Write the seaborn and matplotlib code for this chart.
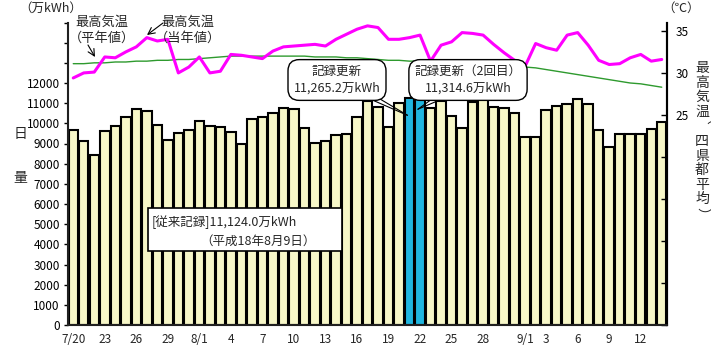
import matplotlib
matplotlib.use("Agg")
import matplotlib.pyplot as plt
import numpy as np
import pandas as pd
import seaborn as sns
from matplotlib.patches import Rectangle

# Daily electricity demand (万kWh), 7/20 - 9/14
demand = [9650, 9100, 8450, 9600, 9850, 10300, 10700, 10600, 9900, 9150,
          9500, 9650, 10100, 9850, 9800, 9550, 9000, 10200, 10300, 10500,
          10750, 10700, 9750, 9030, 9130, 9430, 9480, 10300, 11100, 10800,
          9800, 11000, 11265.2, 11314.6, 10750, 11130, 10380, 9750, 11050, 11230,
          10800, 10750, 10500, 9320, 9320, 10670, 10850, 10950, 11200, 10950,
          9650, 8850, 9480, 9480, 9480, 9720, 10050]

# Days that set a new record
record_days = [32, 33]

# Daily maximum temperature, average of four prefectural capitals (℃)
temp_actual = [29.4, 30.0, 30.1, 31.9, 31.8, 32.5, 33.1, 34.2, 33.8, 34.0,
               30.0, 30.7, 31.9, 30.0, 30.2, 32.2, 32.1, 31.9, 31.7, 32.6,
               33.1, 33.2, 33.3, 33.4, 33.2, 34.0, 34.6, 35.2, 35.6, 35.4,
               34.0, 34.0, 34.2, 34.5, 31.4, 33.3, 33.7, 34.8, 34.7, 34.5,
               33.4, 32.4, 31.5, 30.8, 33.5, 33.0, 32.7, 34.5, 34.8, 33.3,
               31.5, 31.0, 31.1, 31.8, 32.2, 31.4, 31.6]

# Normal-year maximum temperature (℃)
temp_normal = [31.1, 31.1, 31.2, 31.2, 31.3, 31.3, 31.4, 31.4, 31.5, 31.5,
               31.6, 31.6, 31.7, 31.8, 31.9, 32.0, 32.0, 32.0, 32.0, 32.0,
               32.0, 32.0, 32.0, 31.9, 31.9, 31.9, 31.8, 31.8, 31.7, 31.6,
               31.5, 31.5, 31.4, 31.4, 31.3, 31.2, 31.2, 31.1, 31.0, 31.0,
               30.9, 30.9, 30.8, 30.7, 30.6, 30.4, 30.2, 30.0, 29.8, 29.6,
               29.4, 29.2, 29.0, 28.8, 28.7, 28.5, 28.3]

tick_pos = [0, 3, 6, 9, 12, 15, 18, 21, 24, 27, 30, 33, 36, 39, 43, 45, 48, 51, 54]
tick_labels = ["7/20", "23", "26", "29", "8/1", "4", "7", "10", "13", "16", "19",
               "22", "25", "28", "9/1", "3", "6", "9", "12"]

sns.set_theme(style="white")
plt.rcParams['font.family'] = ['Noto Sans CJK JP', 'DejaVu Sans']

W, H = 711, 347
fig = plt.figure(figsize=(W / 100, H / 100), dpi=100)


def px(x, y):
    return (x / W, 1 - y / H)


L, R, B, T = 68, 667, 325, 22.5
ax = fig.add_axes([L / W, 1 - B / H, (R - L) / W, (B - T) / H])

n = len(demand)
df = pd.DataFrame({
    "day": np.arange(n),
    "demand": demand,
    "kind": ["record" if i in record_days else "normal" for i in range(n)],
})
sns.barplot(data=df, x="day", y="demand", hue="kind",
            palette={"normal": "#ffffc0", "record": "#00c8ff"},
            dodge=False, width=0.9, edgecolor="black", linewidth=1.5,
            legend=False, ax=ax)

ax.set_ylim(0, 15000)
yt = np.arange(0, 15001, 1000)
ax.set_yticks(yt)
ax.set_yticklabels([str(v) if v <= 12000 else "" for v in yt])
ax.set_xticks(tick_pos)
ax.set_xticklabels(tick_labels)
ax.tick_params(axis="y", direction="out", length=3, width=1, labelsize=8.5,
               pad=3, left=True, colors="black")
ax.tick_params(axis="x", length=0, labelsize=8.5, pad=6)
ax.set_xlabel("")
ax.set_ylabel("")
for s in ["left", "bottom", "right"]:
    ax.spines[s].set_color("black")
    ax.spines[s].set_linewidth(1.5)
ax.spines["top"].set_visible(False)

ax2 = ax.twinx()
x = np.arange(n)
sns.lineplot(x=x, y=temp_normal, color="#2e9a2e", linewidth=1.0, ax=ax2)
sns.lineplot(x=x, y=temp_actual, color="#ff00ff", linewidth=2.2, ax=ax2)
ax2.set_ylim(0, 36)
ax2.set_yticks(np.arange(0, 36, 5))
ax2.set_yticklabels(["" if v < 25 else str(v) for v in range(0, 36, 5)])
ax2.tick_params(axis="y", direction="in", length=4, width=1, labelsize=8.5,
                pad=6, right=True, colors="black")
ax2.spines["top"].set_visible(False)
ax2.spines["right"].set_color("black")
ax2.spines["right"].set_linewidth(1.5)
ax2.set_xlim(-0.5, n - 0.5)
ax.set_xlim(-0.5, n - 0.5)
ax2.set_xlabel("")
ax2.set_ylabel("")

# Units
fig.text(*px(51, 8), "（万kWh）", ha="center", va="center", fontsize=9)
fig.text(*px(681, 8), "（℃）", ha="center", va="center", fontsize=9)

# Left axis title
fig.text(*px(20, 134), "日", ha="center", va="center", fontsize=10)
fig.text(*px(20, 178), "量", ha="center", va="center", fontsize=10)

# Right axis title, written vertically
vchars = ["最", "高", "気", "温", "（", "四", "県", "都", "平", "均", "）"]
for k, ch in enumerate(vchars):
    rot = 270 if ch in "（）" else 0
    fig.text(*px(702, 68 + 14.6 * k), ch, ha="center", va="center",
             fontsize=10, rotation=rot)

# Line labels with arrows
fig.text(*px(102, 30), "最高気温\n（平年値）", ha="center", va="center",
         fontsize=9.5, linespacing=1.3)
ax.annotate("", xy=px(95, 57), xycoords="figure fraction",
            xytext=px(88, 45), textcoords="figure fraction",
            arrowprops=dict(arrowstyle="->", lw=0.8, color="black",
                            shrinkA=0, shrinkB=0),
            annotation_clip=False)
fig.text(*px(188, 30), "最高気温\n（当年値）", ha="center", va="center",
         fontsize=9.5, linespacing=1.3)
ax.annotate("", xy=px(147, 35), xycoords="figure fraction",
            xytext=px(163, 23), textcoords="figure fraction",
            arrowprops=dict(arrowstyle="->", lw=0.8, color="black",
                            shrinkA=0, shrinkB=0),
            annotation_clip=False)

# Record callouts
box = dict(boxstyle="round,pad=0.45,rounding_size=0.9", fc="white",
           ec="black", lw=1.0)
fig.text(*px(337, 80), "記録更新\n11,265.2万kWh", ha="center", va="center",
         fontsize=9, linespacing=1.35, bbox=box, zorder=5)
fig.text(*px(468, 80), "記録更新（2回目）\n11,314.6万kWh", ha="center",
         va="center", fontsize=9, linespacing=1.35, bbox=box, zorder=5)
for sx, tx, ty in [(370, 31.8, 10400), (380, 31.8, 10400),
                   (432, 32.8, 10700), (442, 32.8, 10700)]:
    ax2.annotate("", xy=(tx, ty * 36 / 15000), xycoords="data",
                 xytext=px(sx, 99), textcoords="figure fraction",
                 arrowprops=dict(arrowstyle="-", lw=0.8, color="black",
                                 shrinkA=0, shrinkB=0))

# Previous record box
fig.add_artist(Rectangle(px(148, 251), (342 - 148) / W, (251 - 208) / H,
                         transform=fig.transFigure, fc="white", ec="black",
                         lw=1.2, zorder=4))
fig.text(*px(152, 222), "[従来記録]11,124.0万kWh", ha="left", va="center",
         fontsize=9, zorder=5)
fig.text(*px(200, 241), "（平成18年8月9日）", ha="left", va="center",
         fontsize=9, zorder=5)

fig.savefig("out.png", dpi=100)
